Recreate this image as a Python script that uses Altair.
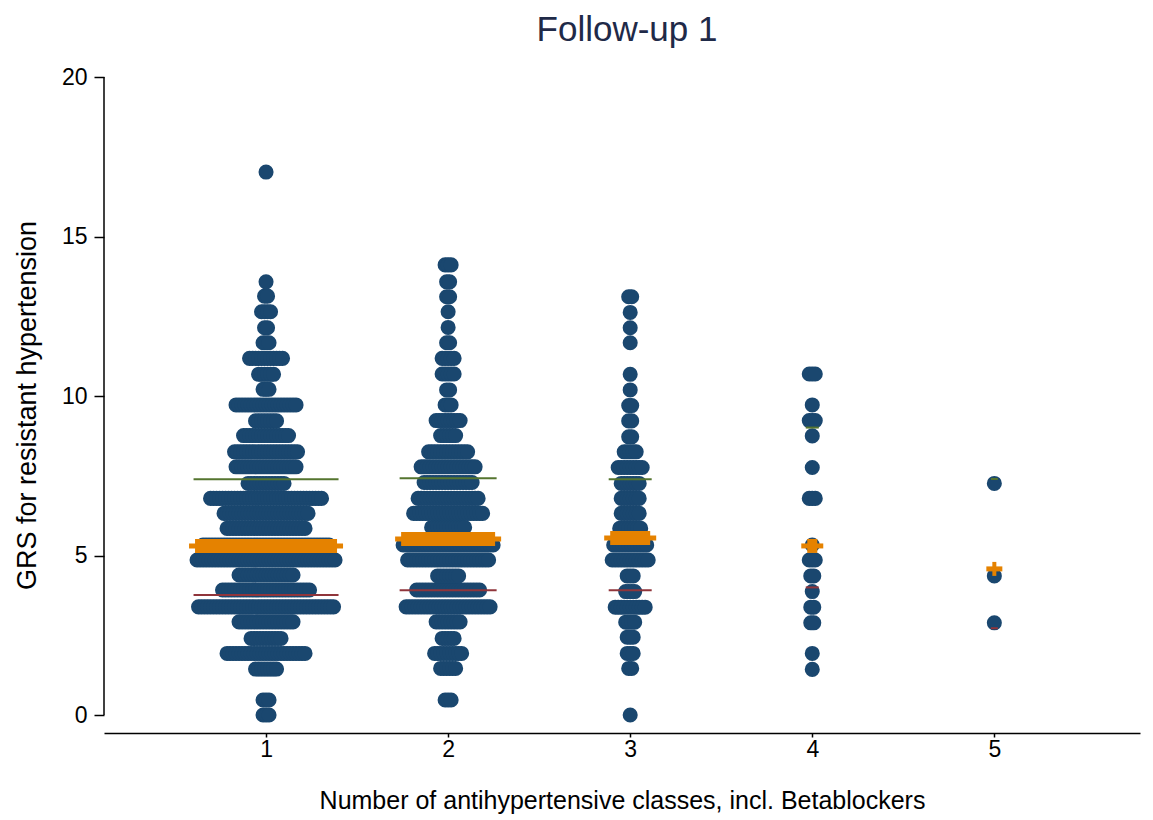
import altair as alt
import pandas as pd

# ---- data ----
groups = [1, 2, 3, 4, 5]

g1_y = [0.0, 0.47, 1.44, 1.93, 2.40, 2.92, 3.39, 3.92, 4.39, 4.86, 5.33, 5.85, 6.32, 6.79, 7.26,
        7.78, 8.25, 8.76, 9.22, 9.72, 10.21, 10.68, 11.18, 11.67, 12.14, 12.64, 13.13, 13.58, 17.02]
g1_n = [3, 3, 8, 27, 11, 19, 46, 30, 19, 47, 43, 27, 29, 38, 13,
        21, 22, 16, 8, 21, 3, 6, 12, 3, 2, 4, 2, 1, 1]

g2_y = [0.47, 1.46, 1.93, 2.40, 2.92, 3.39, 3.92, 4.36, 4.86, 5.33, 5.88, 6.32, 6.79, 7.29,
        7.78, 8.25, 8.76, 9.23, 9.72, 10.19, 10.69, 11.18, 11.67, 12.15, 12.64, 13.11, 13.58, 14.11]
g2_n = [3, 6, 10, 5, 9, 29, 22, 8, 28, 31, 12, 24, 21, 17,
        19, 14, 6, 9, 3, 2, 5, 5, 2, 1, 1, 2, 2, 3]

g3_y = [0.0, 1.46, 1.93, 2.44, 2.91, 3.38, 3.87, 4.36, 4.86, 5.33, 5.85, 6.32, 6.79, 7.26,
        7.76, 8.25, 8.72, 9.22, 9.70, 10.19, 10.68, 11.67, 12.14, 12.62, 13.11]
g3_n = [1, 2, 3, 3, 4, 11, 4, 3, 13, 12, 8, 7, 7, 7,
        9, 5, 2, 2, 2, 1, 1, 1, 1, 1, 2]

g4_y = [1.43, 1.93, 2.89, 3.38, 3.87, 4.36, 4.86, 5.33, 6.79, 7.76, 8.75, 9.23, 9.72, 10.69]
g4_n = [1, 1, 2, 2, 1, 2, 3, 1, 3, 1, 1, 3, 1, 3]

g5_y = [2.89, 4.36, 7.26]
g5_n = [1, 1, 1]

q1 = [3.76, 3.91, 3.91, 4.00, 2.72]
med = [5.30, 5.52, 5.55, 5.30, 4.58]
q3 = [7.39, 7.42, 7.39, 9.01, 7.40]

y_ticks = [0, 5, 10, 15, 20]
x_ticks = [1, 2, 3, 4, 5]

# ---- layout ----
W, H = 1036, 656
XDOM = [0.11, 5.80]
YDOM = [-0.564, 20]
PX = (XDOM[1] - XDOM[0]) / W          # data units per pixel on x
STEP = 3 * PX                          # horizontal spacing of stacked dots

ys = [g1_y, g2_y, g3_y, g4_y, g5_y]
ns = [g1_n, g2_n, g3_n, g4_n, g5_n]

dot_rows = []
summ_rows = []
for g, yl, nl, a, m, b in zip(groups, ys, ns, q1, med, q3):
    for y, n in zip(yl, nl):
        for i in range(n):
            dot_rows.append({"group": g, "x": g + (i - (n - 1) / 2) * STEP, "y": y})
    spread = (max(nl) - 1) * STEP
    line_h = spread / 2 + 3.5 * PX
    band_h = spread / 2 + 2 * PX
    arm_h = band_h + 6 * PX
    summ_rows.append({"group": g, "q1": a, "med": m, "q3": b,
                      "ll": g - line_h, "lr": g + line_h,
                      "bl": g - band_h, "br": g + band_h,
                      "al": g - arm_h, "ar": g + arm_h})

dots = pd.DataFrame(dot_rows)
summ = pd.DataFrame(summ_rows)
yaxis_df = pd.DataFrame({"y0": [y_ticks[0]], "y1": [y_ticks[-1]]})

FONT = "Liberation Sans, Arial, sans-serif"
NAVY = "#1a476f"
ORANGE = "#e58200"
GREEN = "#55752f"
MAROON = "#90353b"

xs = alt.Scale(domain=XDOM, nice=False, zero=False)
ysc = alt.Scale(domain=YDOM, nice=False, zero=False)

x_axis = alt.Axis(values=x_ticks, format="d", title="Number of antihypertensive classes, incl. Betablockers",
                  grid=False, domainColor="black", domainWidth=1.5, tickColor="black", tickWidth=1.5,
                  tickSize=4, labelFontSize=23, labelFont=FONT, labelColor="black", labelPadding=1,
                  titleFont=FONT, titleFontSize=25, titleFontWeight="normal", titleColor="black",
                  titlePadding=27)
y_axis = alt.Axis(values=y_ticks, format="d", title="GRS for resistant hypertension",
                  grid=False, domain=False, tickColor="black", tickWidth=1.5, tickSize=10,
                  labelFontSize=23, labelFont=FONT, labelColor="black", labelPadding=7,
                  titleFont=FONT, titleFontSize=27, titleFontWeight="normal", titleColor="black",
                  titlePadding=20)

dots_layer = alt.Chart(dots).mark_circle(size=227, color=NAVY, opacity=1).encode(
    x=alt.X("x:Q", scale=xs, axis=x_axis),
    y=alt.Y("y:Q", scale=ysc, axis=y_axis),
)

yline = alt.Chart(yaxis_df).mark_rule(color="black", strokeWidth=1.5).encode(
    x=alt.value(0), y=alt.Y("y0:Q", scale=ysc), y2="y1")

q3_layer = alt.Chart(summ).mark_rule(color=GREEN, strokeWidth=2).encode(
    x=alt.X("ll:Q", scale=xs), x2="lr", y=alt.Y("q3:Q", scale=ysc))
q1_layer = alt.Chart(summ).mark_rule(color=MAROON, strokeWidth=2).encode(
    x=alt.X("ll:Q", scale=xs), x2="lr", y=alt.Y("q1:Q", scale=ysc))
arm_layer = alt.Chart(summ).mark_rule(color=ORANGE, strokeWidth=5, strokeCap="butt").encode(
    x=alt.X("al:Q", scale=xs), x2="ar", y=alt.Y("med:Q", scale=ysc))
band_layer = alt.Chart(summ).mark_rule(color=ORANGE, strokeWidth=14, strokeCap="butt").encode(
    x=alt.X("bl:Q", scale=xs), x2="br", y=alt.Y("med:Q", scale=ysc))

chart = alt.layer(dots_layer, yline, q3_layer, q1_layer, arm_layer, band_layer).properties(
    width=W, height=H, background="white",
    title=alt.TitleParams("Follow-up 1", font=FONT, fontSize=35, fontWeight="normal",
                          color="#1f2a48", anchor="middle", offset=18, dx=5),
).configure_view(strokeWidth=0, stroke=None)

chart.save("out.html", embed_options={"renderer": "svg", "actions": False})
